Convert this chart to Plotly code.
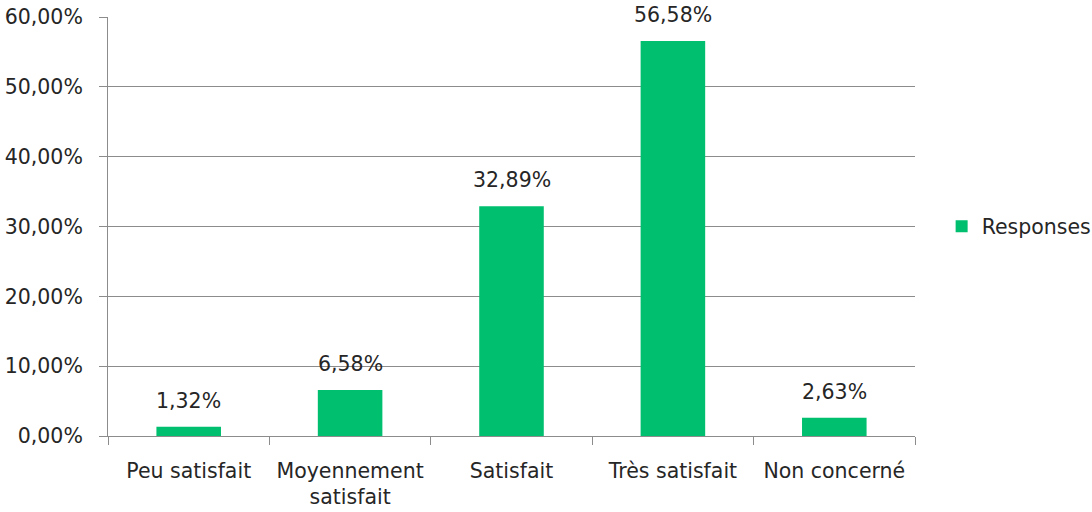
import plotly.graph_objects as go

categories = ["Peu satisfait", "Moyennement<br>satisfait", "Satisfait", "Très satisfait", "Non concerné"]
values = [1.32, 6.58, 32.89, 56.58, 2.63]
value_labels = ["1,32%", "6,58%", "32,89%", "56,58%", "2,63%"]
series_name = "Responses"
tick_vals = [0, 10, 20, 30, 40, 50, 60]
tick_text = ["0,00%", "10,00%", "20,00%", "30,00%", "40,00%", "50,00%", "60,00%"]

font_family = "'DejaVu Sans', sans-serif"
font_size = 20.5
text_color = "#262626"
grid_color = "#8c8c8c"
bar_color = "#00BF6F"

fig = go.Figure()
fig.add_trace(go.Bar(
    x=categories,
    y=values,
    name=series_name,
    marker=dict(color=bar_color, line=dict(width=0)),
    width=0.4,
    showlegend=True,
))

for cat, val, lab in zip(categories, values, value_labels):
    fig.add_annotation(
        x=cat, y=val, text=lab, showarrow=False,
        yanchor="bottom", yshift=12,
        font=dict(family=font_family, size=font_size, color=text_color),
    )

fig.update_layout(
    width=1092,
    height=512,
    margin=dict(l=108, r=177, t=17, b=76, autoexpand=False),
    paper_bgcolor="white",
    plot_bgcolor="white",
    font=dict(family=font_family, size=font_size, color=text_color),
    showlegend=True,
    legend=dict(
        x=1.033, xanchor="left", y=0.5, yanchor="middle",
        font=dict(family=font_family, size=font_size, color=text_color),
        itemwidth=30,
    ),
)

fig.update_yaxes(
    range=[0, 60],
    tickvals=tick_vals,
    ticktext=tick_text,
    showgrid=True,
    gridcolor=grid_color,
    gridwidth=1,
    showline=True,
    linecolor=grid_color,
    linewidth=1,
    ticks="outside",
    ticklen=8,
    tickcolor=grid_color,
    ticklabelstandoff=12,
    zeroline=False,
    automargin=False,
    tickfont=dict(family=font_family, size=font_size, color=text_color),
)

fig.update_xaxes(
    showline=True,
    linecolor=grid_color,
    linewidth=1,
    ticks="outside",
    ticklen=8,
    tickcolor=grid_color,
    tickson="boundaries",
    ticklabelstandoff=16,
    showgrid=False,
    automargin=False,
    tickfont=dict(family=font_family, size=font_size, color=text_color),
)

fig.write_html(
    "out.html",
    config={"displayModeBar": False},
    post_script="document.body.style.margin='0';document.body.style.overflow='hidden';",
)
